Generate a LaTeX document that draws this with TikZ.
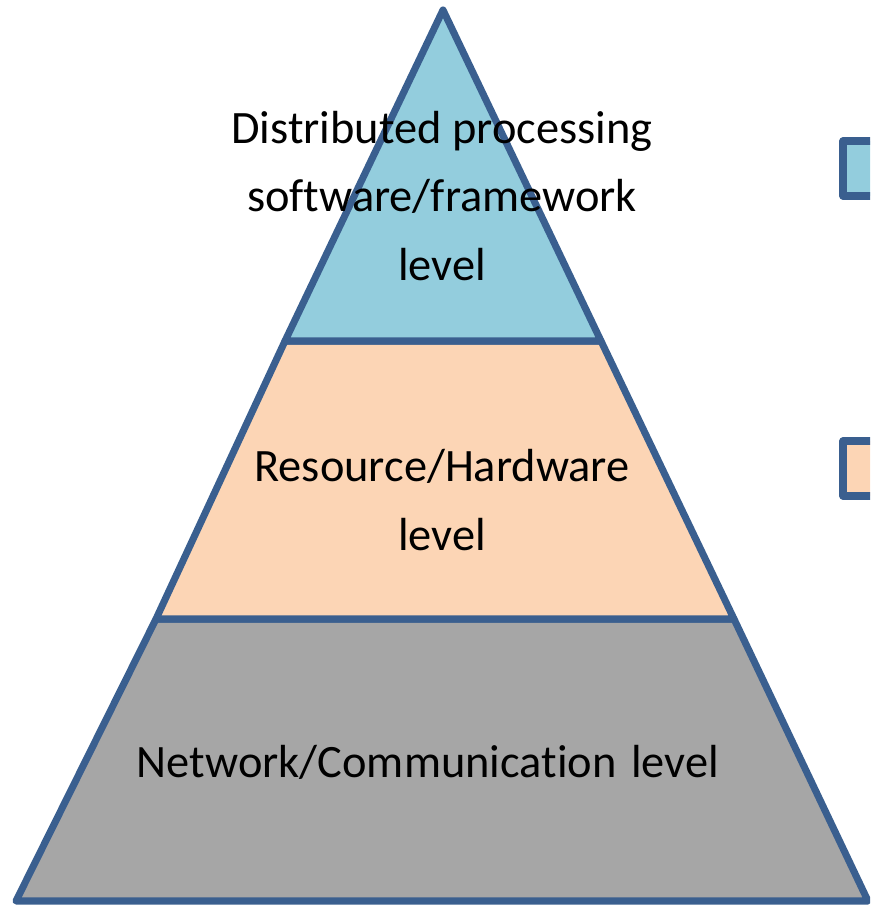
\documentclass[tikz,border=0pt]{standalone}
\usepackage{fontspec}
\setmainfont[Ligatures=NoCommon]{Carlito}
\definecolor{edge}{HTML}{3A5F8F}
\definecolor{topfill}{HTML}{93CDDD}
\definecolor{midfill}{HTML}{FCD5B5}
\definecolor{lowfill}{HTML}{A6A6A6}
\begin{document}
\begin{tikzpicture}[x=0.025cm, y=-0.025cm, line join=round,
  layer/.style={draw=edge, line width=5pt},
  lbl/.style={align=center, font=\fontsize{33}{49}\selectfont}]
\useasboundingbox (0,0) rectangle (870,905);
\clip (0,0) rectangle (870,905);
% corners of the pyramid
\coordinate (apex) at (443,10);
\coordinate (bl) at (16,901);
\coordinate (br) at (868,901);
\coordinate (l1) at (285,341);
\coordinate (r1) at (601,341);
\coordinate (l2) at (156,619);
\coordinate (r2) at (734,619);
% layers
\draw[layer, fill=lowfill](l2)--(r2)--(br)--(bl)--cycle;
\draw[layer, fill=midfill](l1)--(r1)--(r2)--(l2)--cycle;
\draw[layer, fill=topfill](apex)--(r1)--(l1)--cycle;
\node[lbl] (top) at (442,196){Distributed processing\\software/framework\\level};
\node[lbl] (mid) at (442,500){Resource/Hardware\\level};
\node[lbl] (low) at (428,762){Network/Communication\hspace{0.32em}level};
% legend boxes
\draw[layer, fill=topfill](843,141) rectangle (900,196);
\draw[layer, fill=midfill](843,441) rectangle (900,496);
\end{tikzpicture}
\end{document}
